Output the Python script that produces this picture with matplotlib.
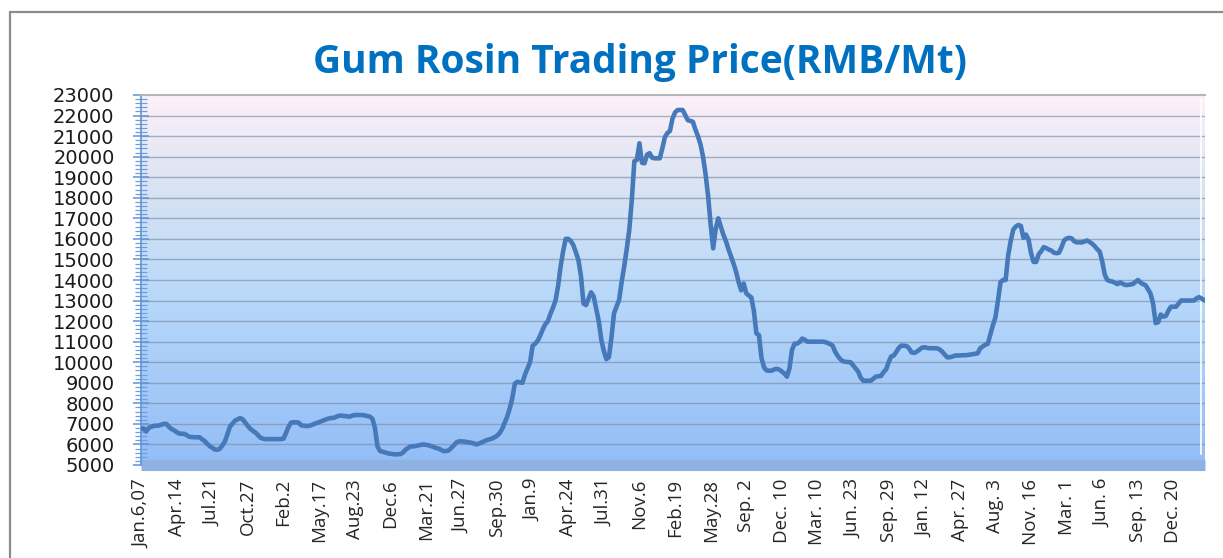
import numpy as np
import matplotlib
matplotlib.use("Agg")
import matplotlib.pyplot as plt
from matplotlib.colors import LinearSegmentedColormap
from matplotlib.ticker import MultipleLocator, FixedLocator
from matplotlib.patches import Rectangle

# ---------------- data ----------------
title = "Gum Rosin Trading Price(RMB/Mt)"

tick_labels = ["Jan.6,07", "Apr.14", "Jul.21", "Oct.27", "Feb.2", "May.17", "Aug.23",
               "Dec.6", "Mar.21", "Jun.27", "Sep.30", "Jan.9", "Apr.24", "Jul.31",
               "Nov.6", "Feb.19", "May.28", "Sep. 2", "Dec. 10", "Mar. 10", "Jun. 23",
               "Sep. 29", "Jan. 12", "Apr. 27", "Aug. 3", "Nov. 16", "Mar. 1",
               "Jun. 6", "Sep. 13", "Dec. 20"]
label_every = 14  # one label every 14 weekly observations

# weekly prices (RMB/Mt), one row per label interval
price = [
    6750, 6790, 6630, 6800, 6860, 6900, 6910, 6920, 6960, 7000, 7000, 6850, 6750, 6690,
    6600, 6530, 6520, 6520, 6450, 6370, 6360, 6350, 6350, 6350, 6250, 6170, 6030, 5920,
    5840, 5760, 5740, 5790, 5950, 6150, 6500, 6870, 7020, 7160, 7220, 7280, 7220, 7060,
    6900, 6760, 6660, 6580, 6450, 6330, 6280, 6260, 6260, 6260, 6260, 6260, 6260, 6260,
    6280, 6550, 6850, 7060, 7080, 7080, 7060, 6930, 6910, 6900, 6900, 6940, 6990, 7040,
    7080, 7130, 7180, 7230, 7270, 7290, 7300, 7360, 7400, 7400, 7380, 7370, 7350, 7400,
    7430, 7430, 7430, 7430, 7410, 7380, 7350, 7250, 6800, 5900, 5680, 5650, 5610, 5570,
    5550, 5530, 5520, 5520, 5530, 5600, 5740, 5830, 5900, 5910, 5920, 5950, 5980, 6000,
    5980, 5960, 5920, 5880, 5830, 5800, 5740, 5670, 5680, 5710, 5830, 5950, 6100, 6150,
    6150, 6140, 6120, 6100, 6080, 6040, 6000, 6050, 6100, 6160, 6210, 6250, 6280, 6350,
    6420, 6550, 6750, 7050, 7350, 7750, 8250, 8950, 9050, 9020, 9000, 9400, 9700, 10000,
    10800, 10900, 11050, 11300, 11600, 11850, 12000, 12350, 12650, 13000, 13700, 14650, 15400, 16000,
    16000, 15900, 15700, 15350, 14970, 14200, 12850, 12780, 13100, 13400, 13200, 12600, 12000, 11100,
    10550, 10150, 10250, 11200, 12380, 12700, 13030, 13900, 14650, 15500, 16430, 17900, 19780, 19840,
    20650, 19700, 19680, 20100, 20170, 19950, 19920, 19920, 19920, 20400, 20950, 21150, 21250, 21850,
    22150, 22270, 22270, 22270, 22030, 21780, 21740, 21700, 21320, 21000, 20600, 20000, 19150, 18100,
    16700, 15540, 16500, 17000, 16600, 16200, 15900, 15500, 15150, 14800, 14400, 13900, 13500, 13830,
    13350, 13250, 13150, 12500, 11400, 11320, 10200, 9750, 9600, 9590, 9590, 9650, 9680, 9640,
    9550, 9450, 9300, 9700, 10600, 10900, 10910, 10980, 11150, 11100, 11000, 11000, 11000, 11000,
    11000, 11000, 11000, 10980, 10940, 10880, 10800, 10500, 10300, 10150, 10050, 10020, 10010, 10000,
    9850, 9700, 9550, 9250, 9100, 9100, 9100, 9100, 9200, 9300, 9320, 9330, 9520, 9650,
    10000, 10280, 10320, 10500, 10700, 10810, 10800, 10790, 10680, 10480, 10450, 10510, 10600, 10700,
    10730, 10700, 10680, 10680, 10680, 10680, 10620, 10520, 10380, 10240, 10240, 10270, 10320, 10330,
    10330, 10340, 10340, 10350, 10370, 10390, 10410, 10430, 10680, 10760, 10850, 10900, 11350, 11800,
    12190, 13000, 13900, 14000, 14000, 15200, 15900, 16450, 16600, 16680, 16630, 16050, 16210, 15970,
    15300, 14880, 14880, 15250, 15400, 15600, 15550, 15480, 15430, 15330, 15300, 15330, 15600, 15930,
    16020, 16050, 16020, 15880, 15830, 15830, 15830, 15870, 15920, 15850, 15770, 15650, 15500, 15380,
    14900, 14250, 14000, 13950, 13920, 13860, 13800, 13880, 13820, 13760, 13760, 13780, 13800, 13900,
    14000, 13880, 13800, 13750, 13550, 13330, 12840, 11900, 11950, 12320, 12220, 12250, 12500, 12700,
    12700, 12700, 12850, 13000, 13000, 13000, 13000, 13000, 13000, 13100, 13170, 13100, 13030,
]

y_min, y_max, y_step = 5000, 23000, 1000

# ---------------- figure ----------------
W, H = 1223, 558
fig = plt.figure(figsize=(W / 100, H / 100), dpi=100, facecolor="white")

# outer chart border (right / bottom edges run off the picture)
fig.patches.append(Rectangle((10 / W, -0.2), 1.5, 1.2 - 12 / H, transform=fig.transFigure,
                             fill=False, ec="#8c8c8c", lw=1.6, zorder=0))

left, right, top, bottom = 141, 1205, 95, 465
ax = fig.add_axes([left / W, 1 - bottom / H, (right - left) / W, (bottom - top) / H])

x = np.arange(len(price))
xmax = len(price) - 0.6
ax.set_xlim(0, xmax)
ax.set_ylim(y_min, y_max)

# gradient plot-area background
cmap = LinearSegmentedColormap.from_list(
    "bg", [(0.0, "#93bdf6"), (0.45, "#b7d8fa"), (0.75, "#d9e3f3"), (1.0, "#fdf1f9")])
grad = np.linspace(0, 1, 256).reshape(-1, 1)
ax.imshow(grad, extent=[0, xmax, y_min, y_max], origin="lower",
          aspect="auto", cmap=cmap, zorder=0, interpolation="bilinear")

# horizontal gridlines
for v in range(y_min + y_step, y_max, y_step):
    ax.axhline(v, color="#7e8ca5", lw=1.0, alpha=0.65, zorder=1)

# thin white line near right edge
ax.plot([0.996, 0.996], [0.03, 0.99], transform=ax.transAxes, color="white", lw=1.2, zorder=1)

# the price line
ax.plot(x, price, color="#4679b9", lw=3.3, solid_joinstyle="round", zorder=3)

# spines
ax.spines["top"].set_color("#b5b5b5")
ax.spines["top"].set_linewidth(1.5)
ax.spines["right"].set_visible(False)
ax.spines["left"].set_color("#5f93d8")
ax.spines["left"].set_linewidth(1.2)
ax.spines["bottom"].set_color("#8fb2e2")
ax.spines["bottom"].set_linewidth(8)
ax.spines["bottom"].set_capstyle("butt")
ax.spines["bottom"].set_zorder(2)

# y axis ticks
ax.yaxis.set_major_locator(MultipleLocator(y_step))
ax.yaxis.set_minor_locator(MultipleLocator(200))
ax.tick_params(axis="y", which="major", direction="inout", length=12, width=1.1,
               color="#5f93d8", pad=13, labelsize=14, labelcolor="#1a1a1a")
ax.tick_params(axis="y", which="minor", direction="inout", length=8, width=0.9,
               color="#6f9fe0")
for lab in ax.get_yticklabels():
    lab.set_fontfamily("DejaVu Sans")

# x axis ticks
ax.xaxis.set_major_locator(FixedLocator(list(range(0, len(price), label_every))))
ax.set_xticklabels(tick_labels, rotation=90, fontsize=13.5, color="#262626",
                   fontfamily=["Liberation Sans Narrow", "Open Sans", "DejaVu Sans"])
ax.tick_params(axis="x", which="major", length=0, pad=10)

# title
fig.text(640 / W, 1 - 62 / H, title, ha="center", va="center", fontsize=28,
         fontweight="bold", color="#0070c0", fontfamily=["Open Sans", "DejaVu Sans"])

fig.savefig("out.png", dpi=100, facecolor="white")
